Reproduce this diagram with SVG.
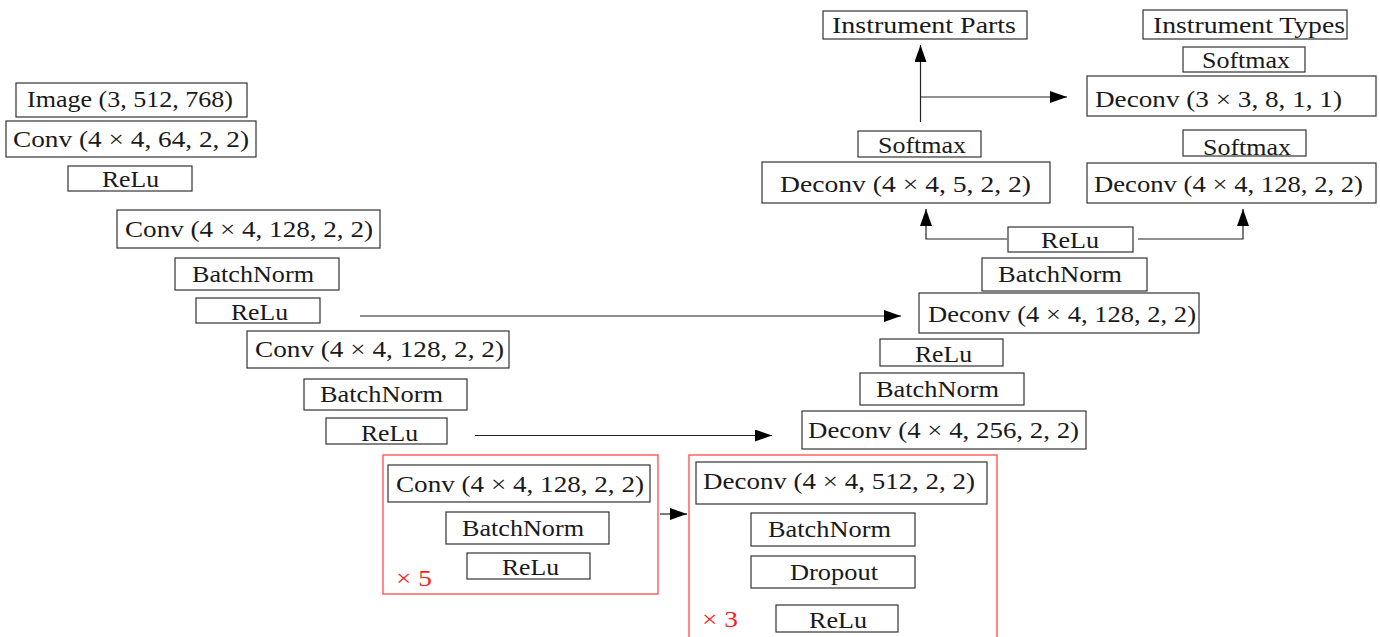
<svg xmlns="http://www.w3.org/2000/svg" width="1380" height="637" viewBox="0 0 1380 637">
<style>
.b{fill:#fff;stroke:#333;stroke-width:1.2}
.r{fill:none;stroke:#ff4a4a;stroke-width:1.3}
text{font-family:"Liberation Serif","Times New Roman",serif;font-size:24px;fill:#1a1a1a}
.red{fill:#ff1a1a}
.c{fill:none;stroke:#222;stroke-width:1.2}
</style>
<defs>
<marker id="ah" markerUnits="userSpaceOnUse" markerWidth="18" markerHeight="13" refX="17" refY="6" orient="auto">
<path d="M0,0 L17,6 L0,12 z" fill="#000"/>
</marker>
</defs>
<rect width="1380" height="637" fill="#fff"/>

<g id="repeat5"><rect class="r" x="383" y="455" width="275" height="139"/><text class="red" x="396" y="586" textLength="36" lengthAdjust="spacingAndGlyphs">× 5</text></g>
<g id="repeat3"><rect class="r" x="689" y="455" width="308" height="200"/><text class="red" x="702" y="627" textLength="36" lengthAdjust="spacingAndGlyphs">× 3</text></g>

<g id="n1"><rect class="b" x="16" y="83" width="231" height="34"/><text x="27" y="107" textLength="206" lengthAdjust="spacingAndGlyphs">Image (3, 512, 768)</text></g>
<g id="n2"><rect class="b" x="6" y="121" width="250" height="36"/><text x="13" y="147" textLength="236" lengthAdjust="spacingAndGlyphs">Conv (4 × 4, 64, 2, 2)</text></g>
<g id="n3"><rect class="b" x="68" y="166" width="124" height="25"/><text x="102" y="187" textLength="57" lengthAdjust="spacingAndGlyphs">ReLu</text></g>
<g id="n4"><rect class="b" x="117" y="210" width="263" height="38"/><text x="125" y="237" textLength="248" lengthAdjust="spacingAndGlyphs">Conv (4 × 4, 128, 2, 2)</text></g>
<g id="n5"><rect class="b" x="175" y="258" width="164" height="32"/><text x="192" y="282" textLength="122" lengthAdjust="spacingAndGlyphs">BatchNorm</text></g>
<g id="n6"><rect class="b" x="196" y="298" width="124" height="25"/><text x="231" y="320" textLength="57" lengthAdjust="spacingAndGlyphs">ReLu</text></g>
<g id="n7"><rect class="b" x="247" y="331" width="262" height="37"/><text x="255" y="357" textLength="249" lengthAdjust="spacingAndGlyphs">Conv (4 × 4, 128, 2, 2)</text></g>
<g id="n8"><rect class="b" x="304" y="379" width="163" height="31"/><text x="320" y="402" textLength="123" lengthAdjust="spacingAndGlyphs">BatchNorm</text></g>
<g id="n9"><rect class="b" x="326" y="418" width="121" height="26"/><text x="361" y="441" textLength="57" lengthAdjust="spacingAndGlyphs">ReLu</text></g>
<g id="n10"><rect class="b" x="388" y="465" width="262" height="37"/><text x="396" y="492" textLength="248" lengthAdjust="spacingAndGlyphs">Conv (4 × 4, 128, 2, 2)</text></g>
<g id="n11"><rect class="b" x="446" y="512" width="163" height="32"/><text x="462" y="536" textLength="122" lengthAdjust="spacingAndGlyphs">BatchNorm</text></g>
<g id="n12"><rect class="b" x="467" y="553" width="123" height="26"/><text x="502" y="575" textLength="57" lengthAdjust="spacingAndGlyphs">ReLu</text></g>

<g id="n13"><rect class="b" x="696" y="462" width="291" height="42"/><text x="703" y="489" textLength="272" lengthAdjust="spacingAndGlyphs">Deconv (4 × 4, 512, 2, 2)</text></g>
<g id="n14"><rect class="b" x="751" y="513" width="164" height="33"/><text x="768" y="537" textLength="123" lengthAdjust="spacingAndGlyphs">BatchNorm</text></g>
<g id="n15"><rect class="b" x="751" y="556" width="164" height="32"/><text x="790" y="580" textLength="88" lengthAdjust="spacingAndGlyphs">Dropout</text></g>
<g id="n16"><rect class="b" x="776" y="605" width="122" height="27"/><text x="809" y="628" textLength="58" lengthAdjust="spacingAndGlyphs">ReLu</text></g>

<g id="n17"><rect class="b" x="802" y="411" width="284" height="38"/><text x="808" y="438" textLength="271" lengthAdjust="spacingAndGlyphs">Deconv (4 × 4, 256, 2, 2)</text></g>
<g id="n18"><rect class="b" x="860" y="373" width="164" height="32"/><text x="876" y="397" textLength="123" lengthAdjust="spacingAndGlyphs">BatchNorm</text></g>
<g id="n19"><rect class="b" x="880" y="339" width="123" height="27"/><text x="915" y="362" textLength="57" lengthAdjust="spacingAndGlyphs">ReLu</text></g>
<g id="n20"><rect class="b" x="919" y="293" width="280" height="40"/><text x="928" y="322" textLength="268" lengthAdjust="spacingAndGlyphs">Deconv (4 × 4, 128, 2, 2)</text></g>
<g id="n21"><rect class="b" x="982" y="258" width="165" height="33"/><text x="998" y="282" textLength="124" lengthAdjust="spacingAndGlyphs">BatchNorm</text></g>
<g id="n22"><rect class="b" x="1008" y="227" width="125" height="25"/><text x="1041" y="248" textLength="58" lengthAdjust="spacingAndGlyphs">ReLu</text></g>

<g id="n23"><rect class="b" x="762" y="162" width="288" height="41"/><text x="780" y="192" textLength="251" lengthAdjust="spacingAndGlyphs">Deconv (4 × 4, 5, 2, 2)</text></g>
<g id="n24"><rect class="b" x="858" y="131" width="123" height="26"/><text x="878" y="153" textLength="88" lengthAdjust="spacingAndGlyphs">Softmax</text></g>
<g id="n25"><rect class="b" x="823" y="11" width="204" height="28"/><text x="832" y="33" textLength="184" lengthAdjust="spacingAndGlyphs">Instrument Parts</text></g>

<g id="n26"><rect class="b" x="1087" y="163" width="289" height="40"/><text x="1094" y="192" textLength="269" lengthAdjust="spacingAndGlyphs">Deconv (4 × 4, 128, 2, 2)</text></g>
<g id="n27"><rect class="b" x="1183" y="130" width="123" height="26"/><text x="1203" y="155" textLength="88" lengthAdjust="spacingAndGlyphs">Softmax</text></g>
<g id="n28"><rect class="b" x="1087" y="76" width="289" height="40"/><text x="1095" y="107" textLength="247" lengthAdjust="spacingAndGlyphs">Deconv (3 × 3, 8, 1, 1)</text></g>
<g id="n29"><rect class="b" x="1183" y="47" width="122" height="25"/><text x="1202" y="68" textLength="88" lengthAdjust="spacingAndGlyphs">Softmax</text></g>
<g id="n30"><rect class="b" x="1143" y="10" width="204" height="29"/><text x="1153" y="33" textLength="192" lengthAdjust="spacingAndGlyphs">Instrument Types</text></g>

<g id="connectors">
<path class="c" d="M360,316 H901" marker-end="url(#ah)"/>
<path class="c" d="M475,435.5 H772" marker-end="url(#ah)"/>
<path class="c" d="M660,514 H687" marker-end="url(#ah)"/>
<path class="c" d="M1007,239 H926 V209" marker-end="url(#ah)"/>
<path class="c" d="M1138,239 H1243 V209" marker-end="url(#ah)"/>
<path class="c" d="M920.5,122 V45" marker-end="url(#ah)"/>
<path class="c" d="M920.5,97 H1067" marker-end="url(#ah)"/>
</g>
</svg>
